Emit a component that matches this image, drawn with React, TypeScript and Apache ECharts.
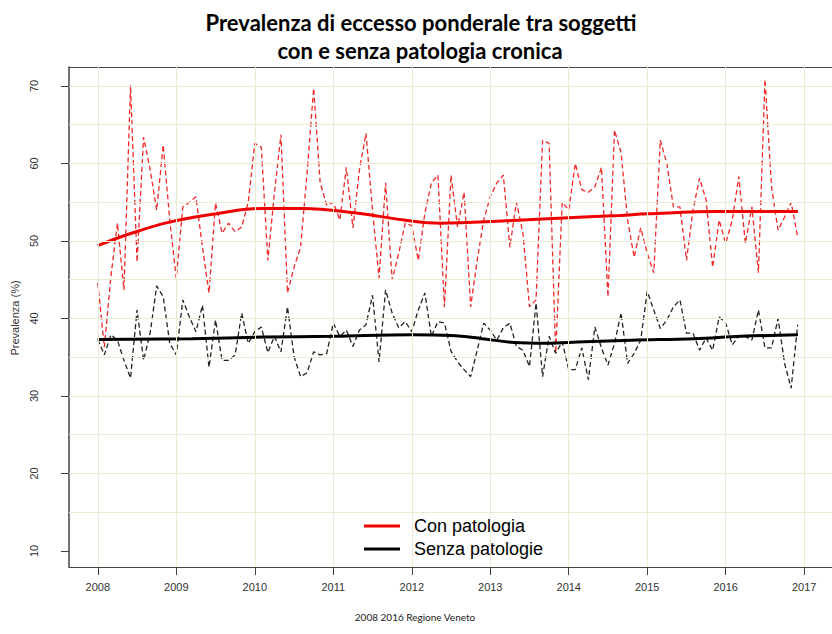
import React, { useEffect, useRef } from 'react';
import * as echarts from 'echarts';

// Monthly prevalence (%), Jan 2008 .. Dec 2016
const conPatologia = [
  44.6, 36.3, 45.4, 52.3, 43.7, 70.1, 47.3, 63.4, 59.2, 54.0, 62.4, 52.7,
  45.2, 54.4, 55.0, 55.7, 49.2, 43.3, 54.9, 51.0, 52.3, 51.2, 51.8, 55.0,
  62.6, 62.1, 47.5, 56.2, 63.7, 43.3, 46.6, 49.2, 58.8, 69.7, 57.5, 54.6,
  55.0, 52.7, 59.5, 51.7, 59.2, 63.9, 54.0, 45.2, 57.5, 45.0, 48.4, 52.3,
  52.0, 47.5, 53.6, 57.5, 58.5, 41.5, 58.5, 51.8, 56.3, 41.5, 47.5, 52.7,
  55.7, 57.5, 58.5, 49.2, 55.0, 51.0, 41.5, 42.4, 63.0, 62.6, 35.5, 55.0,
  54.0, 60.0, 56.6, 56.3, 57.0, 59.5, 42.8, 64.3, 61.4, 52.7, 47.9, 51.7,
  48.4, 45.9, 63.0, 60.0, 54.4, 54.4, 47.5, 54.0, 58.1, 55.3, 46.6, 52.7,
  49.7, 52.7, 58.3, 49.7, 54.4, 45.9, 70.8, 57.0, 51.4, 53.1, 55.0, 50.5
];

const senzaPatologie = [
  37.3, 35.3, 37.9, 37.2, 34.6, 32.3, 41.1, 34.6, 38.1, 44.2, 42.8, 36.8,
  35.3, 42.4, 40.2, 38.3, 41.7, 33.7, 39.8, 34.6, 34.6, 35.3, 40.7, 36.8,
  38.3, 38.9, 35.6, 37.7, 35.7, 41.5, 35.1, 32.5, 33.0, 35.7, 35.3, 35.5,
  39.4, 37.7, 38.5, 36.4, 38.5, 39.2, 43.0, 34.4, 43.7, 40.7, 38.8, 39.6,
  38.3, 41.1, 43.3, 37.7, 39.6, 39.4, 35.8, 34.4, 33.4, 32.5, 35.9, 39.4,
  38.5, 37.2, 38.8, 39.4, 36.4, 35.9, 33.8, 42.0, 32.5, 37.7, 35.5, 37.0,
  33.4, 33.4, 36.2, 32.1, 38.9, 36.2, 34.0, 36.8, 40.7, 34.2, 35.5, 37.2,
  43.5, 41.1, 38.7, 39.8, 41.5, 42.4, 38.1, 38.1, 35.9, 37.5, 35.9, 40.2,
  39.4, 36.6, 37.7, 37.7, 37.2, 41.1, 36.2, 36.2, 40.0, 34.2, 31.0, 39.2
];

// Smoothed trends [year, value]
const conTrend = [
  [2008.0, 49.4], [2008.4, 50.9], [2008.9, 52.4], [2009.5, 53.5], [2010.1, 54.2],
  [2010.6, 54.2], [2011.3, 53.6], [2011.9, 52.7], [2012.37, 52.3], [2013.2, 52.6],
  [2014.0, 53.0], [2014.65, 53.3], [2015.0, 53.5], [2015.9, 53.8], [2016.92, 53.8]
];
const senzaTrend = [
  [2008.0, 37.3], [2009.2, 37.4], [2010.1, 37.6], [2011.0, 37.7], [2012.0, 37.9],
  [2012.5, 37.8], [2012.9, 37.4], [2013.3, 36.9], [2013.7, 36.8], [2014.2, 37.0],
  [2014.8, 37.2], [2015.6, 37.4], [2016.2, 37.7], [2016.92, 37.9]
];

const yearTicks = [2008, 2009, 2010, 2011, 2012, 2013, 2014, 2015, 2016, 2017];
const yTicks = [10, 20, 30, 40, 50, 60, 70];
const yGrid = [15, 20, 25, 30, 35, 40, 45, 50, 55, 60, 65, 70];

const startYear = 2008;

export default function App() {
  const ref = useRef<HTMLDivElement>(null);
  useEffect(() => {
    const chart = echarts.init(ref.current!, null, { renderer: 'svg' });
    const monthly = (arr: number[]) => arr.map((v, i) => [startYear + i / 12, v]);
    const gridLine = { color: '#ebead3', width: 1, type: 'solid' as const };
    const xMin = 2007.633;
    const xMax = 2017.354;
    chart.setOption({
      animation: false,
      backgroundColor: '#ffffff',
      grid: { left: 69, top: 67, right: -5, bottom: 67, show: false },
      xAxis: [
        {
          type: 'value',
          min: xMin,
          max: xMax,
          axisLine: { show: true, lineStyle: { color: '#444', width: 1 } },
          axisTick: { show: true, length: 8, customValues: yearTicks, lineStyle: { color: '#444' } },
          axisLabel: {
            customValues: yearTicks,
            margin: 14,
            color: '#333',
            fontSize: 11,
            fontFamily: 'Liberation Sans',
            formatter: (v: number) => String(Math.round(v))
          },
          splitLine: { show: false }
        },
        {
          type: 'value',
          position: 'top',
          min: xMin,
          max: xMax,
          axisLine: { show: true, lineStyle: { color: '#444', width: 1.2 } },
          axisTick: { show: false },
          axisLabel: { show: false },
          splitLine: { show: false }
        }
      ],
      yAxis: {
        type: 'value',
        min: 7.935,
        max: 72.45,
        axisLine: { show: true, lineStyle: { color: '#444', width: 1.5 } },
        axisTick: { show: true, length: 8, customValues: yTicks, lineStyle: { color: '#444' } },
        axisLabel: {
          customValues: yTicks,
          rotate: 90,
          margin: 30,
          color: '#333',
          fontSize: 11,
          fontFamily: 'Liberation Sans',
          formatter: (v: number) => String(Math.round(v))
        },
        splitLine: { show: false }
      },
      legend: {
        orient: 'vertical',
        left: 359,
        top: 512,
        icon: 'rect',
        itemWidth: 36,
        itemHeight: 3,
        itemGap: 5,
        data: ['Con patologia', 'Senza patologie'],
        textStyle: { fontSize: 18, fontFamily: 'Liberation Sans', color: '#000', padding: [0, 0, 0, 9] }
      },
      graphic: [
        {
          type: 'text', x: 421, y: 22,
          style: {
            text: 'Prevalenza di eccesso ponderale tra soggetti',
            font: 'bold 22px Lato', fill: '#000', textAlign: 'center', textVerticalAlign: 'middle'
          }
        },
        {
          type: 'text', x: 420, y: 50,
          style: {
            text: 'con e senza patologia cronica',
            font: 'bold 22px Lato', fill: '#000', textAlign: 'center', textVerticalAlign: 'middle'
          }
        },
        {
          type: 'text', x: 15, y: 318, rotation: Math.PI / 2,
          style: {
            text: 'Prevalenza (%)',
            font: '11px Liberation Sans', fill: '#333', textAlign: 'center', textVerticalAlign: 'middle'
          }
        },
        {
          type: 'text', x: 415, y: 617,
          style: {
            text: '2008 2016 Regione Veneto',
            font: '10px Lato', fill: '#222', textAlign: 'center', textVerticalAlign: 'middle'
          }
        }
      ],
      series: [
        {
          type: 'line', name: 'grid', data: [], silent: true, z: 1,
          markLine: {
            silent: true, symbol: ['none', 'none'], label: { show: false },
            lineStyle: gridLine,
            data: [
              ...yGrid.map(v => ({ yAxis: v })),
              ...yearTicks.map(v => ({ xAxis: v }))
            ]
          }
        },
        {
          type: 'line', name: 'conMensile', data: monthly(conPatologia), symbol: 'none', z: 2,
          lineStyle: { color: '#f02828', width: 1.3, type: [5, 3] }, silent: true
        },
        {
          type: 'line', name: 'senzaMensile', data: monthly(senzaPatologie), symbol: 'none', z: 2,
          lineStyle: { color: '#222', width: 1.3, type: [5, 3] }, silent: true
        },
        {
          type: 'line', name: 'Con patologia', data: conTrend, symbol: 'none', smooth: 0.4, z: 3,
          itemStyle: { color: '#ee0000' },
          lineStyle: { color: '#ee0000', width: 3 }, silent: true
        },
        {
          type: 'line', name: 'Senza patologie', data: senzaTrend, symbol: 'none', smooth: 0.4, z: 3,
          itemStyle: { color: '#000' },
          lineStyle: { color: '#000', width: 3 }, silent: true
        }
      ]
    });
    return () => chart.dispose();
  }, []);
  return (
    <div
      ref={ref}
      style={{ position: 'fixed', left: 0, top: 0, width: 832, height: 634, background: '#fff' }}
    />
  );
}
